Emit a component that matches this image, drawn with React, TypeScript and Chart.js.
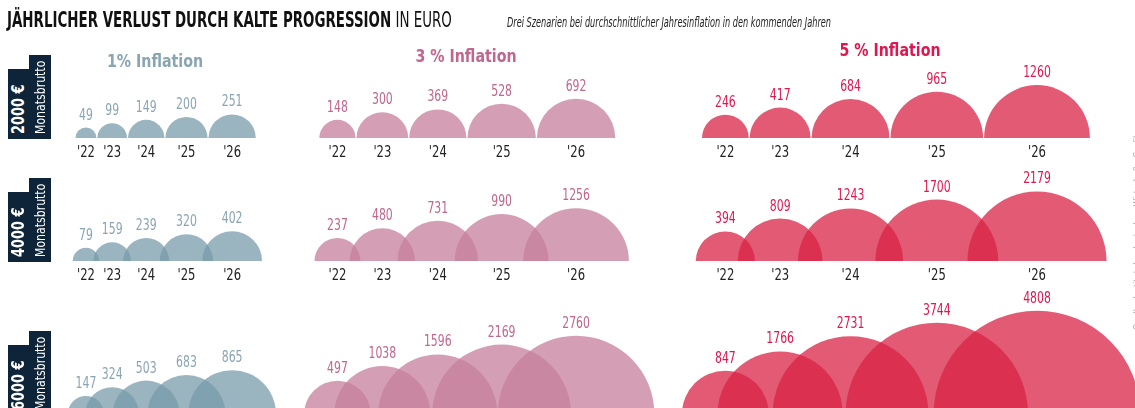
import React, { useEffect, useRef } from "react";
import { Chart, registerables } from "chart.js";

Chart.register(...registerables);

// ---------- data ----------
const years = ["'22", "'23", "'24", "'25", "'26"];
const incomeLabels = ["2000 €", "4000 €", "6000 €"];
const scenarioLabels = ["1% Inflation", "3 % Inflation", "5 % Inflation"];

const loss2000at1 = [49, 99, 149, 200, 251];
const loss2000at3 = [148, 300, 369, 528, 692];
const loss2000at5 = [246, 417, 684, 965, 1260];
const loss4000at1 = [79, 159, 239, 320, 402];
const loss4000at3 = [237, 480, 731, 990, 1256];
const loss4000at5 = [394, 809, 1243, 1700, 2179];
const loss6000at1 = [147, 324, 503, 683, 865];
const loss6000at3 = [497, 1038, 1596, 2169, 2760];
const loss6000at5 = [847, 1766, 2731, 3744, 4808];

const lossGrid = [
  [loss2000at1, loss2000at3, loss2000at5],
  [loss4000at1, loss4000at3, loss4000at5],
  [loss6000at1, loss6000at3, loss6000at5],
];

// ---------- layout / style ----------
const W = 1135;
const H = 408;
const ROW_BASE = [138, 261, 414];
const COL_LEFT = [75.5, 319.3, 702];
const R_PER_SQRT = 1.49;
const GAP = 1;
const FONT = '"DejaVu Sans Condensed", "DejaVu Sans", sans-serif';
const FILL = ["rgba(120,155,171,0.75)", "rgba(198,127,156,0.75)", "rgba(218,35,70,0.75)"];
const TEXT_COL = ["#8aa5b2", "#c0668f", "#e0174f"];
const HEAD_POS = [
  { cx: 155, base: 67 },
  { cx: 466, base: 62.5 },
  { cx: 890, base: 56.5 },
];
const NAVY = "#0e2438";

const radius = (v: number) => R_PER_SQRT * Math.sqrt(v);

// centres of the half circles, laid out so that the first row's circles touch
const centres = COL_LEFT.map((left, c) => {
  const vals = lossGrid[0][c];
  const xs: number[] = [];
  let x = left;
  vals.forEach((v, i) => {
    if (i === 0) x = left + radius(v);
    else x += radius(vals[i - 1]) + radius(v) + GAP;
    xs.push(x);
  });
  return xs;
});

const halfClip = {
  id: "halfClip",
  beforeDatasetDraw(chart: any, args: any) {
    const ds = chart.data.datasets[args.index];
    const yb = chart.scales.y.getPixelForValue(ROW_BASE[ds.row]);
    const ctx = chart.ctx;
    ctx.save();
    ctx.beginPath();
    ctx.rect(0, 0, chart.width, yb);
    ctx.clip();
  },
  afterDatasetDraw(chart: any) {
    chart.ctx.restore();
  },
};

function narrowText(ctx: CanvasRenderingContext2D, t: string, x: number, y: number, s: number) {
  ctx.save();
  ctx.translate(x, y);
  ctx.scale(s, 1);
  ctx.fillText(t, 0, 0);
  ctx.restore();
}

const labelPlugin = {
  id: "bubbleLabels",
  afterDatasetsDraw(chart: any) {
    const ctx = chart.ctx;
    ctx.save();
    ctx.textAlign = "center";
    ctx.textBaseline = "alphabetic";
    chart.data.datasets.forEach((ds: any, i: number) => {
      const meta = chart.getDatasetMeta(i);
      meta.data.forEach((el: any, j: number) => {
        const { x, y } = el.getProps(["x", "y"], true);
        const r = el.options.radius;
        ctx.font = `15.5px ${FONT}`;
        ctx.fillStyle = TEXT_COL[ds.col];
        narrowText(ctx, String(ds.data[j].v), x, y - r - 8, 0.78);
        ctx.font = `15px ${FONT}`;
        ctx.fillStyle = "#222";
        narrowText(ctx, years[j], x, y + 19, 0.86);
      });
    });
    ctx.restore();
  },
};

export default function App() {
  const ref = useRef<HTMLCanvasElement | null>(null);

  useEffect(() => {
    if (!ref.current) return;
    const datasets: any[] = [];
    lossGrid.forEach((row, r) => {
      row.forEach((vals, c) => {
        datasets.push({
          label: `${incomeLabels[r]} – ${scenarioLabels[c]}`,
          data: vals.map((v, i) => ({ x: centres[c][i], y: ROW_BASE[r], r: radius(v), v })),
          backgroundColor: FILL[c],
          hoverBackgroundColor: FILL[c],
          borderWidth: 0,
          hoverBorderWidth: 0,
          row: r,
          col: c,
          clip: false,
        });
      });
    });
    const chart = new Chart(ref.current, {
      type: "bubble",
      data: { datasets },
      options: {
        animation: false,
        responsive: false,
        devicePixelRatio: 1,
        events: [],
        layout: { padding: 0, autoPadding: false },
        plugins: { legend: { display: false }, tooltip: { enabled: false }, title: { display: false } },
        scales: {
          x: { type: "linear", min: 0, max: W, display: false },
          y: { type: "linear", min: 0, max: H, reverse: true, display: false },
        },
      },
      plugins: [halfClip, labelPlugin],
    });
    return () => chart.destroy();
  }, []);

  const abs: React.CSSProperties = { position: "absolute", whiteSpace: "nowrap", lineHeight: 1 };

  return (
    <div style={{ position: "absolute", left: 0, top: 0, width: W, height: H, overflow: "hidden", background: "#fff", fontFamily: FONT }}>
      <canvas ref={ref} width={W} height={H} style={{ position: "absolute", left: 0, top: 0, width: W, height: H }} />
      <div style={{ ...abs, left: 7, top: 10, fontSize: 21, color: "#111", transform: "scaleX(0.71)", transformOrigin: "0 0" }}>
        <b>JÄHRLICHER VERLUST DURCH KALTE PROGRESSION</b> IN EURO
      </div>
      <div style={{ ...abs, left: 507, top: 15, fontSize: 14, fontStyle: "italic", color: "#222", transform: "scaleX(0.65)", transformOrigin: "0 0" }}>
        Drei Szenarien bei durchschnittlicher Jahresinflation in den kommenden Jahren
      </div>
      {scenarioLabels.map((s, c) => (
        <div key={s} style={{ ...abs, left: HEAD_POS[c].cx, top: HEAD_POS[c].base - 14.5, fontSize: 17, fontWeight: 700, color: TEXT_COL[c], transform: "translateX(-50%) scaleX(0.93)" }}>
          {s}
        </div>
      ))}
      {incomeLabels.map((lab, r) => (
        <React.Fragment key={lab}>
          <div style={{ position: "absolute", left: 8, top: ROW_BASE[r] - 69, width: 21, height: 70, background: NAVY }} />
          <div style={{ position: "absolute", left: 29, top: ROW_BASE[r] - 83, width: 22, height: 84, background: NAVY }} />
          <div style={{ position: "absolute", left: 8, top: ROW_BASE[r] - 4, lineHeight: "21px", height: 21, color: "#fff", fontWeight: 700, fontSize: 17.5, whiteSpace: "nowrap", transform: "rotate(-90deg) scaleX(0.82)", transformOrigin: "0 0" }}>
            {lab}
          </div>
          <div style={{ position: "absolute", left: 29, top: ROW_BASE[r] - 4, lineHeight: "22px", height: 22, color: "#fff", fontSize: 13.5, whiteSpace: "nowrap", transform: "rotate(-90deg) scaleX(0.9)", transformOrigin: "0 0" }}>
            Monatsbrutto
          </div>
        </React.Fragment>
      ))}
      <div style={{ position: "absolute", left: 1132, top: 330, lineHeight: "10px", fontSize: 9, color: "#aaa", whiteSpace: "nowrap", transform: "rotate(-90deg)", transformOrigin: "0 0" }}>
        Quelle: Institut der deutschen Wirtschaft · Grafik
      </div>
    </div>
  );
}
